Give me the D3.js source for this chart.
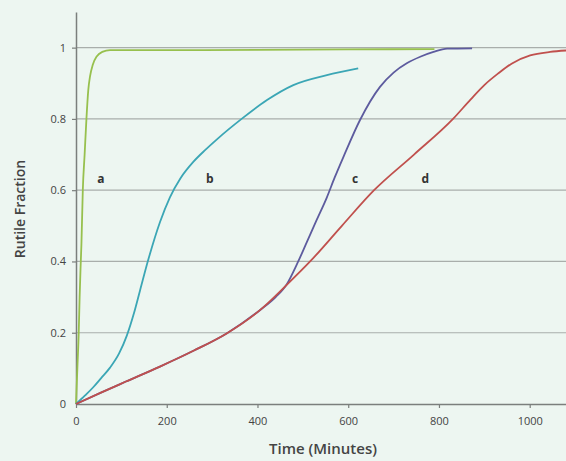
<!DOCTYPE html>
<html>
<head>
<meta charset="utf-8">
<script src="https://cdn.jsdelivr.net/npm/d3@7"></script>
<style>
  body { margin: 0; background: #edf6f1; }
  svg { display: block; }
</style>
</head>
<body>
<div id="chart"></div>
<script>
// rutile fraction vs time, four runs a-d

var w = 566, h = 461;

var xTicks = [0, 200, 400, 600, 800, 1000];
var yTicks = [0, 0.2, 0.4, 0.6, 0.8, 1];
var yTickLabels = ["0", "0.2", "0.4", "0.6", "0.8", "1"];

var curveNames = ["a", "b", "c", "d"];
var curveColors = ["#97c04e", "#3ba6b5", "#5d5b9e", "#c0504d"];

// [minutes, fraction]
var seriesA = [[0,0],[3,0.1],[6,0.2],[8,0.3],[10,0.38],[12,0.45],[15,0.6],[19,0.7],[23,0.8],[27,0.88],[31,0.92],[37,0.952],[46,0.976],[58,0.988],[75,0.993],[200,0.993],[400,0.994],[600,0.995],[790,0.996]];
var seriesB = [[0,0],[20,0.024],[38,0.047],[55,0.072],[75,0.102],[95,0.142],[112,0.192],[128,0.256],[141,0.318],[160,0.408],[185,0.51],[207,0.58],[230,0.633],[259,0.68],[285,0.713],[310,0.742],[365,0.8],[421,0.853],[479,0.895],[553,0.923],[622,0.942]];
var seriesC = [[0,0],[55,0.032],[110,0.063],[185,0.105],[260,0.15],[332,0.198],[406,0.264],[440,0.3],[465,0.337],[488,0.395],[509,0.455],[530,0.515],[553,0.58],[570,0.635],[590,0.695],[626,0.797],[670,0.89],[700,0.93],[729,0.956],[760,0.975],[788,0.988],[818,0.997],[873,0.998]];
var seriesD = [[0,0],[55,0.032],[110,0.063],[185,0.105],[260,0.15],[332,0.198],[406,0.264],[465,0.335],[516,0.4],[586,0.5],[657,0.6],[745,0.7],[831,0.8],[870,0.855],[900,0.895],[930,0.927],[960,0.955],[1001,0.978],[1045,0.988],[1080,0.992]];

// where the letters sit (minutes, fraction)
var labelX = [55, 295, 615, 770];
var labelY = [0.62, 0.62, 0.62, 0.62];

var allSeries = [seriesA, seriesB, seriesC, seriesD];

var x = d3.scaleLinear().domain([0, 1080]).range([76, 566]);
var y = d3.scaleLinear().domain([0, 1.1]).range([404, 12]);

var svg = d3.select("#chart")
  .append("svg")
  .attr("width", w)
  .attr("height", h);

svg.append("rect")
  .attr("width", w)
  .attr("height", h)
  .attr("fill", "#edf6f1");

// gridlines
svg.append("g")
  .selectAll("line")
  .data(yTicks.slice(1))
  .enter().append("line")
  .attr("x1", x(0))
  .attr("x2", x.range()[1])
  .attr("y1", function (d) { return y(d); })
  .attr("y2", function (d) { return y(d); })
  .attr("stroke", "#a9aeab")
  .attr("stroke-width", 1.2);

var yAxis = d3.axisLeft(y)
  .tickValues(yTicks)
  .tickFormat(function (d, i) { return yTickLabels[i]; })
  .tickSizeInner(4)
  .tickSizeOuter(0)
  .tickPadding(6);

var xAxis = d3.axisBottom(x)
  .tickValues(xTicks)
  .tickFormat(d3.format("d"))
  .tickSizeInner(4)
  .tickSizeOuter(0)
  .tickPadding(9);

var gy = svg.append("g")
  .attr("transform", "translate(" + x(0) + ",0)")
  .call(yAxis);

var gx = svg.append("g")
  .attr("transform", "translate(0," + y(0) + ")")
  .call(xAxis);

[gx, gy].forEach(function (g) {
  g.select(".domain").attr("stroke", "#7b7f7d").attr("stroke-width", 1.5);
  g.selectAll(".tick line").attr("stroke", "#7b7f7d").attr("stroke-width", 1.2);
  g.selectAll(".tick text")
    .attr("fill", "#444")
    .style("font-family", "'Open Sans', sans-serif")
    .style("font-size", "11px");
});
gy.select(".tick:first-of-type line").remove();

var line = d3.line()
  .x(function (d) { return x(d[0]); })
  .y(function (d) { return y(d[1]); })
  .curve(d3.curveMonotoneX);

svg.append("g")
  .selectAll("path")
  .data(allSeries)
  .enter().append("path")
  .attr("d", line)
  .attr("fill", "none")
  .attr("stroke", function (d, i) { return curveColors[i]; })
  .attr("stroke-width", 1.8)
  .attr("stroke-linejoin", "round");

svg.append("g")
  .selectAll("text")
  .data(curveNames)
  .enter().append("text")
  .attr("x", function (d, i) { return x(labelX[i]); })
  .attr("y", function (d, i) { return y(labelY[i]); })
  .attr("text-anchor", "middle")
  .attr("fill", "#333")
  .style("font-family", "'Open Sans', sans-serif")
  .style("font-size", "12px")
  .style("font-weight", "bold")
  .text(function (d) { return d; });

// axis titles
svg.append("text")
  .attr("transform", "translate(25,209) rotate(-90)")
  .attr("text-anchor", "middle")
  .attr("fill", "#444")
  .style("font-family", "'Open Sans', sans-serif")
  .style("font-size", "14px")
  .style("font-weight", "600")
  .text("Rutile Fraction");

svg.append("text")
  .attr("x", 323)
  .attr("y", 454)
  .attr("text-anchor", "middle")
  .attr("fill", "#444")
  .style("font-family", "'Open Sans', sans-serif")
  .style("font-size", "15px")
  .style("font-weight", "600")
  .text("Time (Minutes)");
</script>
</body>
</html>
